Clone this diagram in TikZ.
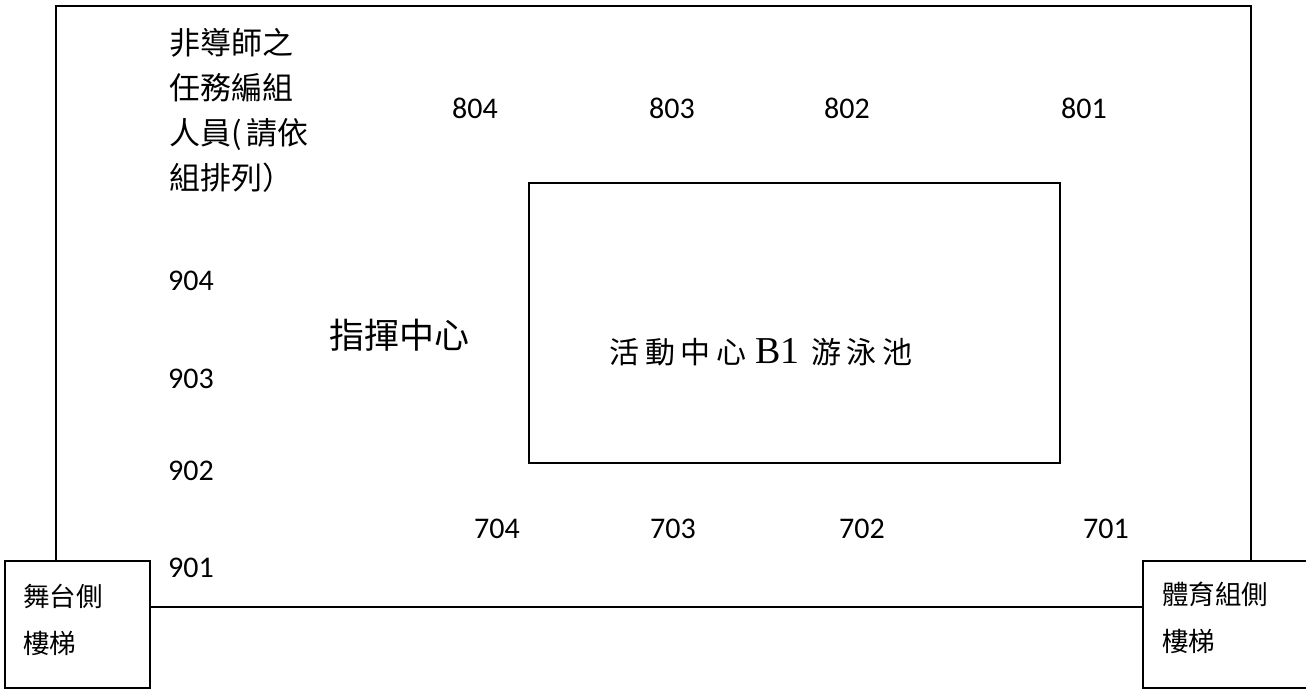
\documentclass[tikz,border=0pt]{standalone}
\usepackage{fontspec}
\newfontfamily\cjk{Noto Sans CJK TC}
\newfontfamily\num{Carlito}
\newfontfamily\serifb{Liberation Serif}
\begin{document}
\begin{tikzpicture}[x=1pt,y=-1pt,
  wall/.style={draw=black,line width=1.6pt},
  numlabel/.style={inner sep=0pt,font=\num\fontsize{30}{34}\selectfont},
  cjklabel/.style={inner sep=0pt,font=\cjk\fontsize{24}{50}\selectfont,align=left,anchor=north west},
]
\useasboundingbox (0,0) rectangle (1306,697);
% outer room
\coordinate (lb) at (56,560);
\coordinate (rb) at (1251,560);
\draw[wall] (lb) -- (56,6) -- (1251,6) -- (rb);
% stair boxes
\node[wall,minimum width=145pt,minimum height=127pt,anchor=north west,inner sep=0pt] (ls) at (4,560) {};
\node[wall,minimum width=180pt,minimum height=127pt,anchor=north west,inner sep=0pt] (rs) at (1142,560) {};
\draw[wall] (ls.east |- 0,607) -- (rs.west |- 0,607);
% pool
\node[wall,minimum width=531pt,minimum height=280pt,anchor=north west,inner sep=0pt] (pool) at (528,182) {};
\node[inner sep=0pt] (pooltxt) at (761,352) {\cjk\fontsize{30}{32}\selectfont 活\hspace{5.5pt}動\hspace{5.5pt}中\hspace{5.5pt}心\hspace{9pt}{\serifb\fontsize{38}{40}\selectfont B1}\hspace{12pt}游\hspace{5.5pt}泳\hspace{5.5pt}池};
% labels
\node[cjklabel,font=\cjk\fontsize{31}{45}\selectfont] (note) at (169,28) {非導師之\\任務編組\\人員(\,請依\\組排列）};
\node[inner sep=0pt,font=\cjk\fontsize{35}{38}\selectfont] (cmd) at (399,335) {指揮中心};
\node[cjklabel,font=\cjk\fontsize{26.5}{47}\selectfont] (lstxt) at (23,584) {舞台側\\樓梯};
\node[cjklabel,font=\cjk\fontsize{26.5}{47}\selectfont] (rstxt) at (1162,582) {體育組側\\樓梯};
% room numbers
\node[numlabel] (n804) at (475,108) {804};
\node[numlabel] (n803) at (672,108) {803};
\node[numlabel] (n802) at (847,108) {802};
\node[numlabel] (n801) at (1084,108) {801};
\node[numlabel] (n904) at (191,281) {904};
\node[numlabel] (n903) at (191,379) {903};
\node[numlabel] (n902) at (191,471) {902};
\node[numlabel] (n901) at (191,568) {901};
\node[numlabel] (n704) at (497,529) {704};
\node[numlabel] (n703) at (673,529) {703};
\node[numlabel] (n702) at (862,529) {702};
\node[numlabel] (n701) at (1106,529) {701};
\end{tikzpicture}
\end{document}
